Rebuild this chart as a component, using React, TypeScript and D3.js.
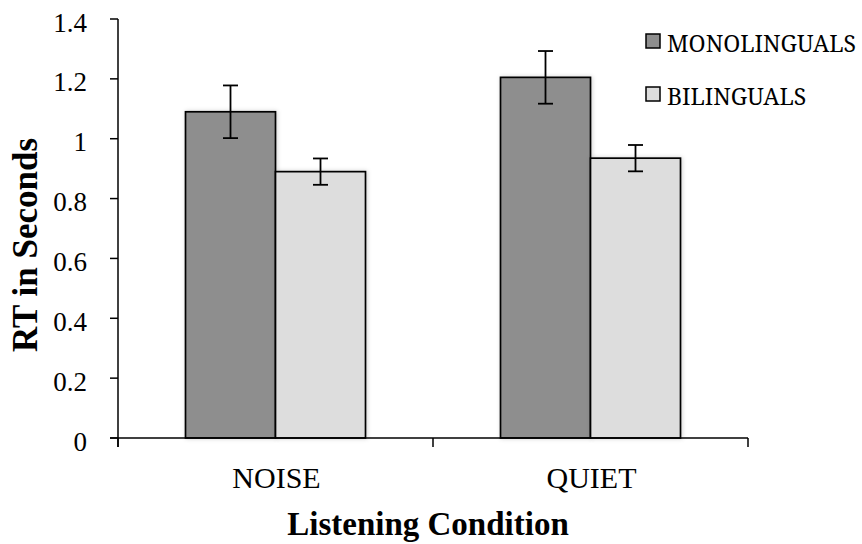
import React from "react";
import * as d3 from "d3";

// Reaction times (seconds) by listening condition and group
const conditions = ["NOISE", "QUIET"];
const groups = ["MONOLINGUALS", "BILINGUALS"];
const monolingualMeans = [1.09, 1.205];
const bilingualMeans = [0.89, 0.935];
const monolingualErrors = [0.088, 0.088];
const bilingualErrors = [0.044, 0.044];
const yTicks = [0, 0.2, 0.4, 0.6, 0.8, 1, 1.2, 1.4];

const groupColors = ["#8e8e8e", "#dddddd"];

const W = 862;
const H = 544;
const axisLeft = 118;
const axisRight = 748;
const axisTop = 19;
const axisBottom = 438;

export default function App() {
  const y = d3.scaleLinear().domain([0, 1.4]).range([axisBottom, axisTop]);
  const x0 = d3.scaleBand<string>().domain(conditions).range([axisLeft, axisRight]).padding(0);
  const x1 = d3
    .scaleBand<string>()
    .domain(groups)
    .range([0, x0.bandwidth()])
    .paddingInner(0)
    .paddingOuter(0.75);

  const series = [
    { name: groups[0], means: monolingualMeans, errs: monolingualErrors, color: groupColors[0] },
    { name: groups[1], means: bilingualMeans, errs: bilingualErrors, color: groupColors[1] },
  ];

  const serif = "'Liberation Serif', 'Times New Roman', serif";
  const legendFont = "'Noto Serif', 'DejaVu Serif', serif";
  const capHalf = 7.5;

  // category boundaries for the x-axis tick marks
  const boundaries = [axisLeft, ...conditions.map((c) => (x0(c) as number) + x0.bandwidth())];

  return (
    <svg
      width={W}
      height={H}
      style={{ position: "absolute", left: 0, top: 0, background: "#fff" }}
      fontFamily={serif}
    >
      <defs>
        <filter id="barShadow" x="-10%" y="-10%" width="120%" height="120%">
          <feDropShadow dx="1" dy="0" stdDeviation="2" floodColor="#000" floodOpacity="0.18" />
        </filter>
      </defs>
      <rect width={W} height={H} fill="#fff" />

      {/* bars */}
      {series.map((s) =>
        conditions.map((c, i) => {
          const bx = (x0(c) as number) + (x1(s.name) as number);
          const by = y(s.means[i]);
          return (
            <rect
              key={s.name + c}
              x={bx}
              y={by}
              width={x1.bandwidth()}
              height={axisBottom - by}
              fill={s.color}
              stroke="#000"
              strokeWidth={1.7}
              filter="url(#barShadow)"
            />
          );
        })
      )}

      {/* error bars */}
      {series.map((s) =>
        conditions.map((c, i) => {
          const cx = (x0(c) as number) + (x1(s.name) as number) + x1.bandwidth() / 2;
          const top = y(s.means[i] + s.errs[i]);
          const bot = y(s.means[i] - s.errs[i]);
          return (
            <g key={"e" + s.name + c} stroke="#000" strokeWidth={1.8}>
              <line x1={cx} x2={cx} y1={top} y2={bot} />
              <line x1={cx - capHalf} x2={cx + capHalf} y1={top} y2={top} />
              <line x1={cx - capHalf} x2={cx + capHalf} y1={bot} y2={bot} />
            </g>
          );
        })
      )}

      {/* y axis */}
      <line x1={axisLeft} x2={axisLeft} y1={axisTop} y2={axisBottom + 9} stroke="#000" strokeWidth={1.5} />
      {yTicks.map((t) => (
        <g key={t}>
          <line x1={axisLeft - 8} x2={axisLeft} y1={y(t)} y2={y(t)} stroke="#000" strokeWidth={1.5} />
          <text x={87} y={y(t) + 12.5} textAnchor="end" fontSize={27} fill="#000">
            {d3.format("")(t)}
          </text>
        </g>
      ))}

      {/* x axis */}
      <line x1={axisLeft - 8} x2={axisRight} y1={axisBottom} y2={axisBottom} stroke="#000" strokeWidth={1.5} />
      {boundaries.map((b, i) => (
        <line key={i} x1={b} x2={b} y1={axisBottom} y2={axisBottom + 9} stroke="#000" strokeWidth={1.5} />
      ))}
      {conditions.map((c) => (
        <text
          key={c}
          x={(x0(c) as number) + x0.bandwidth() / 2 + 1}
          y={488}
          textAnchor="middle"
          fontSize={30}
          fill="#000"
        >
          {c}
        </text>
      ))}

      {/* axis titles */}
      <text x={428} y={535} textAnchor="middle" fontSize={33} fontWeight="bold" fill="#000">
        Listening Condition
      </text>
      <text
        transform={`translate(37, 245) rotate(-90)`}
        textAnchor="middle"
        fontSize={35}
        fontWeight="bold"
        fill="#000"
      >
        RT in Seconds
      </text>

      {/* legend */}
      {series.map((s, i) => (
        <g key={"l" + s.name} transform={`translate(646, ${34 + i * 53})`}>
          <rect x={0} y={0} width={14} height={14} fill={s.color} stroke="#000" strokeWidth={1.5} />
          <text x={21} y={18} fontSize={23} fontFamily={legendFont} fill="#000">
            {s.name}
          </text>
        </g>
      ))}
    </svg>
  );
}
